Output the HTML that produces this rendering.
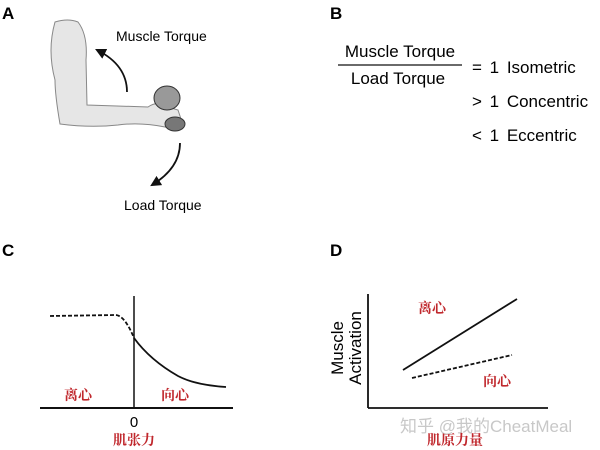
<!DOCTYPE html>
<html><head><meta charset="utf-8"><style>
body{margin:0;background:#fff}
svg{display:block}
text{font-family:"Liberation Sans","Noto Sans CJK SC",sans-serif}
.cn{font-family:"Noto Serif CJK SC","Noto Sans CJK SC",serif;fill:#c0282d;font-size:14px;font-weight:bold}
</style></head><body>
<svg width="600" height="450" viewBox="0 0 600 450" xmlns="http://www.w3.org/2000/svg">
<defs>
<marker id="ah" viewBox="0 0 10 10" refX="8" refY="5" markerWidth="6" markerHeight="6" orient="auto"><path d="M0,0 L10,5 L0,10 z" fill="#111"/></marker>
</defs>
<text x="2" y="19" font-size="17" font-weight="bold">A</text>
<text x="330" y="19" font-size="17" font-weight="bold">B</text>
<text x="2" y="256" font-size="17" font-weight="bold">C</text>
<text x="330" y="256" font-size="17" font-weight="bold">D</text>
<!-- arm -->
<path d="M55,22 Q68,18 78,22 Q88,35 86,60 L87,105 L148,107 Q158,100 168,107 L178,110 L183,125 Q175,130 165,127 Q140,122 118,125 Q90,128 60,124 Q55,95 55,80 Q47,50 55,22 z" fill="#e6e6e6" stroke="#888" stroke-width="1"/>
<ellipse cx="167" cy="98" rx="13" ry="12" fill="#999" stroke="#333"/>
<ellipse cx="175" cy="124" rx="10" ry="7" fill="#777" stroke="#333"/>
<path d="M127,92 Q127,65 97,50" fill="none" stroke="#111" stroke-width="1.8" marker-end="url(#ah)"/>
<path d="M180,143 Q180,168 152,185" fill="none" stroke="#111" stroke-width="1.8" marker-end="url(#ah)"/>
<text x="116" y="41" font-size="14">Muscle Torque</text>
<text x="124" y="210" font-size="14">Load Torque</text>
<!-- B -->
<text x="400" y="57" font-size="17" text-anchor="middle">Muscle Torque</text>
<line x1="338" y1="65" x2="462" y2="65" stroke="#111" stroke-width="1.3"/>
<text x="398" y="84" font-size="17" text-anchor="middle">Load Torque</text>
<text x="472" y="73" font-size="17" word-spacing="3">= 1  Isometric</text>
<text x="472" y="107" font-size="17" word-spacing="3">&gt; 1  Concentric</text>
<text x="472" y="141" font-size="17" word-spacing="3">&lt; 1  Eccentric</text>
<!-- C -->
<line x1="40" y1="408" x2="233" y2="408" stroke="#111" stroke-width="2"/>
<line x1="134" y1="296" x2="134" y2="408" stroke="#111" stroke-width="1.5"/>
<path d="M50,316 L116,315 Q125,316 134,338" fill="none" stroke="#111" stroke-width="1.8" stroke-dasharray="4,2"/>
<path d="M134,338 Q150,360 178,376 Q195,385 226,387" fill="none" stroke="#111" stroke-width="1.8"/>
<text x="78" y="400" class="cn" text-anchor="middle">离心</text>
<text x="175" y="400" class="cn" text-anchor="middle">向心</text>
<text x="134" y="427" font-size="15" text-anchor="middle">0</text>
<text x="134" y="445" class="cn" text-anchor="middle">肌张力</text>
<!-- D -->
<line x1="368" y1="294" x2="368" y2="408" stroke="#111" stroke-width="1.8"/>
<line x1="368" y1="408" x2="548" y2="408" stroke="#111" stroke-width="1.8"/>
<line x1="403" y1="370" x2="517" y2="299" stroke="#111" stroke-width="1.8"/>
<line x1="412" y1="378" x2="512" y2="355" stroke="#111" stroke-width="1.8" stroke-dasharray="4,2"/>
<text x="432" y="313" class="cn" text-anchor="middle">离心</text>
<text x="497" y="386" class="cn" text-anchor="middle">向心</text>
<text transform="translate(343,348) rotate(-90)" font-size="17" text-anchor="middle">Muscle</text>
<text transform="translate(361,348) rotate(-90)" font-size="17" text-anchor="middle">Activation</text>
<text x="400" y="432" font-size="17" fill="#c8c8c8" font-family="Liberation Sans,Noto Sans CJK SC,sans-serif">知乎 @我的CheatMeal</text>
<text x="455" y="445" class="cn" text-anchor="middle">肌原力量</text>
</svg>
</body></html>
